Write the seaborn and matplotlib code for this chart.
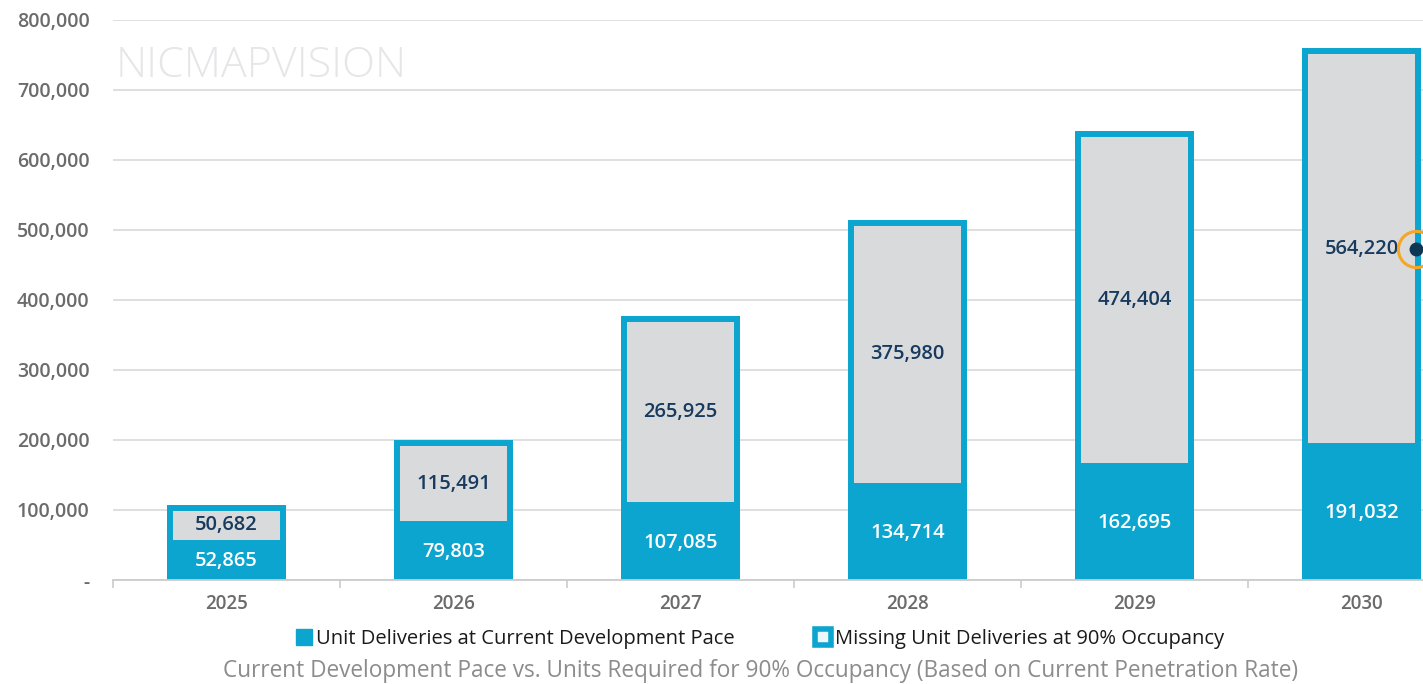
import matplotlib
matplotlib.use("Agg")
import matplotlib.pyplot as plt
import matplotlib.ticker as mticker
from matplotlib.patches import Patch
import numpy as np
import pandas as pd
import seaborn as sns

years = ["2025", "2026", "2027", "2028", "2029", "2030"]
current_pace = [52865, 79803, 107085, 134714, 162695, 191032]
missing_units = [50682, 115491, 265925, 375980, 474404, 564220]
y_ticks = [0, 100000, 200000, 300000, 400000, 500000, 600000, 700000, 800000]

BLUE = "#0ba5cf"
GRAY = "#d9dadc"
NAVY = "#173a5e"
TICK = "#6b6b6b"

sns.set_theme(style="white")
plt.rcParams["font.family"] = ["Open Sans", "DejaVu Sans"]

df = pd.DataFrame({
    "year": years,
    "current": current_pace,
    "missing": missing_units,
})
df["total"] = df["current"] + df["missing"]

fig = plt.figure(figsize=(14.23, 6.84), dpi=100)
ax = fig.add_axes([113 / 1423, 104 / 684, 1362 / 1423, 560 / 684])

# stacked look: full-height gray bar with blue frame, blue base drawn over it
sns.barplot(data=df, x="year", y="total", color=GRAY, saturation=1, width=0.5,
            edgecolor=BLUE, linewidth=4.3, ax=ax)
sns.barplot(data=df, x="year", y="current", color=BLUE, saturation=1, width=0.5,
            edgecolor=BLUE, linewidth=4.3, ax=ax)

for i, row in df.iterrows():
    ax.text(i, row["current"] / 2, f"{row['current']:,}", ha="center", va="center",
            color="white", fontsize=14.5, fontweight="semibold")
    ax.text(i, row["current"] + row["missing"] / 2, f"{row['missing']:,}", ha="center",
            va="center", color=NAVY, fontsize=14.5, fontweight="semibold")

# stray hover marker on the 2030 bar
last = len(df) - 1
my = df.loc[last, "current"] + df.loc[last, "missing"] / 2
ax.plot([last + 0.24], [my], marker="o", ms=26, mfc="none", mec="#f5a623", mew=2.2,
        clip_on=False, zorder=5)
ax.plot([last + 0.24], [my], marker="o", ms=9, color="#0d3554", clip_on=False, zorder=6)

ax.set_xlim(-0.5, len(years) - 0.5)
ax.set_ylim(0, 800000)
ax.set_yticks(y_ticks)
ax.yaxis.set_major_formatter(mticker.FuncFormatter(lambda v, p: "-" if v == 0 else f"{v:,.0f}"))
ax.yaxis.grid(True, color="#dcdcdc", lw=1.3)
ax.set_axisbelow(True)
ax.set_xlabel("")
ax.set_ylabel("")
for s in ["left", "top", "right"]:
    ax.spines[s].set_visible(False)
ax.spines["bottom"].set_color("#cccccc")
ax.spines["bottom"].set_linewidth(1.3)
ax.tick_params(axis="y", length=0, pad=17, labelsize=14)
for lbl in ax.get_yticklabels():
    lbl.set_color(TICK)
    lbl.set_fontweight("semibold")
ax.tick_params(axis="x", which="major", length=0, pad=10, labelsize=13.5)
for lbl in ax.get_xticklabels():
    lbl.set_color(TICK)
    lbl.set_fontweight("semibold")
ax.set_xticks(np.arange(-0.5, len(years)), minor=True)
ax.tick_params(axis="x", which="minor", length=6, color="#cccccc", width=1.2, bottom=True)

# watermark
fig.text(116 / 1423, 1 - 66 / 684, "NICMAPVISION", fontsize=31, color="#e6e6e9",
         fontweight="light", va="center", ha="left")

handles = [Patch(facecolor=BLUE, edgecolor=BLUE),
           Patch(facecolor="#eaf7fb", edgecolor=BLUE, linewidth=4)]
fig.legend(handles, ["Unit Deliveries at Current Development Pace",
                     "Missing Unit Deliveries at 90% Occupancy"],
           loc="center", bbox_to_anchor=(760 / 1423, 1 - 639 / 684), ncol=2, frameon=False,
           fontsize=14.5, handlelength=0.8, handleheight=0.8, handletextpad=0.2,
           columnspacing=4.0, labelcolor="#1a1a1a")

fig.text(761 / 1423, 1 - 671 / 684,
         "Current Development Pace vs. Units Required for 90% Occupancy (Based on Current Penetration Rate)",
         ha="center", va="center", fontsize=16.3, color="#8c8c8c")

fig.savefig("out.png", dpi=100)
